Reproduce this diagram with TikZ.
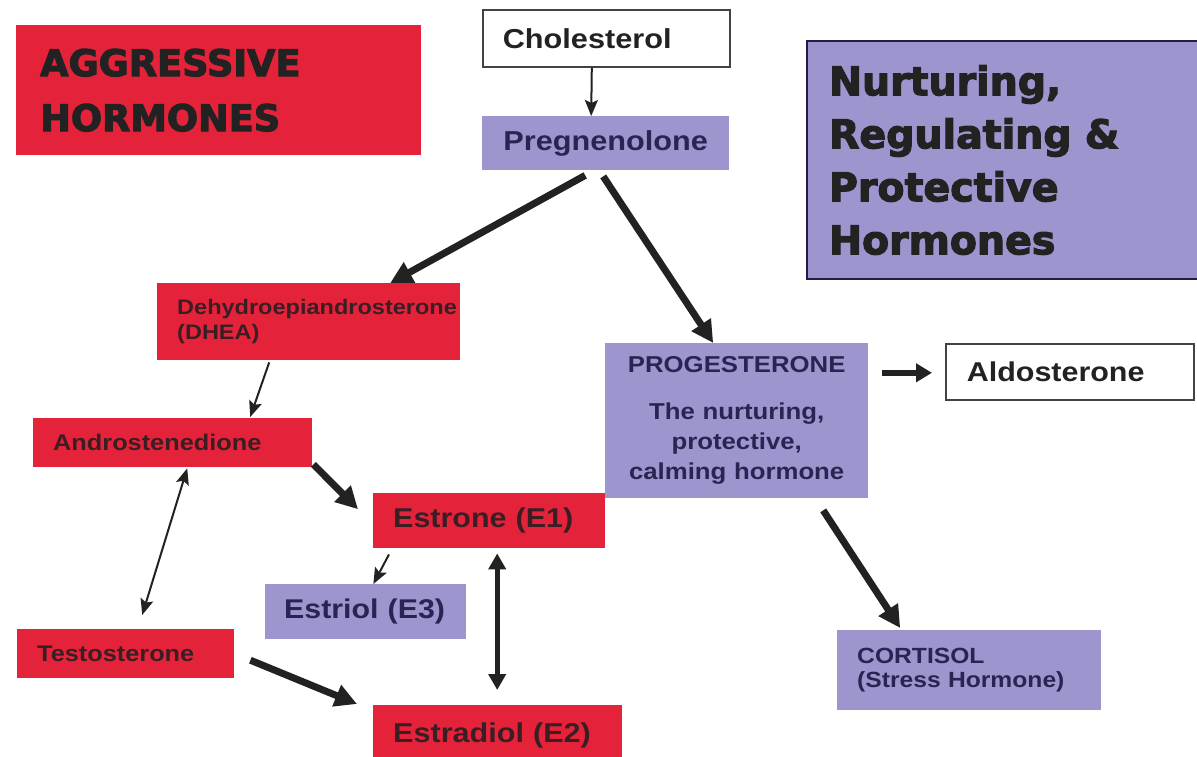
\documentclass[tikz,border=0pt]{standalone}
\usepackage{fontspec}
\usetikzlibrary{arrows.meta,calc}
\newfontfamily\boxfont{Liberation Sans}[FakeStretch=1.12]
\newfontfamily\headfont{DejaVu Sans}[FakeBold=3]
\definecolor{hred}{HTML}{E4233A}
\definecolor{hlav}{HTML}{9D95CE}
\definecolor{navy}{HTML}{2A2452}
\definecolor{darkred}{HTML}{3A1E24}
\definecolor{ink}{HTML}{222222}
\hyphenpenalty=10000
\exhyphenpenalty=10000
\begin{document}
\begin{tikzpicture}[x=1pt,y=-1pt,
  box/.style={anchor=north west, inner ysep=0pt, inner xsep=20pt, align=left, font=\boxfont\bfseries},
  redbox/.style={box, fill=hred, text=darkred},
  lavbox/.style={box, fill=hlav, text=navy},
  whitebox/.style={box, fill=white, draw=ink!85, line width=1.6pt, text=ink},
  fat/.style={draw=ink, line width=7pt, -{Triangle[length=22pt,width=22pt]}},
  mid/.style={draw=ink, line width=5pt, {Triangle[length=16pt,width=17pt]}-{Triangle[length=16pt,width=17pt]}},
  slim/.style={draw=ink, line width=2pt, -{Stealth[length=16pt,width=13pt,inset=3pt]}},
  slimboth/.style={draw=ink, line width=2pt, {Stealth[length=16pt,width=13pt,inset=3pt]}-{Stealth[length=16pt,width=13pt,inset=3pt]}},
]
\path[use as bounding box, fill=white] (0,0) rectangle (1197,757);

% headings
\node[redbox, text=ink, inner xsep=24pt, text width=357pt, minimum height=130pt,
      font=\headfont\bfseries\fontsize{36.7}{55}\selectfont] (aggr) at (16,25)
      {AGGRESSIVE\\HORMONES};
\node[lavbox, text=ink, draw=navy!80!black, line width=2pt, inner xsep=22pt, text width=360pt, minimum height=238pt,
      font=\headfont\bfseries\fontsize{39.5}{53}\selectfont] (nurt) at (806,40)
      {Nurturing,\\Regulating~\&\\Protective\\Hormones};

% pathway boxes
\node[whitebox, text width=207pt, minimum height=57pt, font=\boxfont\bfseries\fontsize{27.4}{30}\selectfont] (chol) at (482,9) {Cholesterol};
\node[lavbox, align=center, text width=207pt, minimum height=54pt, font=\boxfont\bfseries\fontsize{27.4}{30}\selectfont] (preg) at (482,116) {Pregnenolone};
\node[redbox, text width=263pt, minimum height=77pt, font=\boxfont\bfseries\fontsize{21}{25}\selectfont] (dhea) at (157,283) {Dehydroepiandrosterone\\(DHEA)};
\node[redbox, text width=239pt, minimum height=49pt, font=\boxfont\bfseries\fontsize{22.6}{25}\selectfont] (andro) at (33,418) {Androstenedione};
\node[redbox, text width=177pt, minimum height=49pt, font=\boxfont\bfseries\fontsize{22.6}{25}\selectfont] (testo) at (17,629) {Testosterone};
\node[redbox, text width=192pt, minimum height=55pt, font=\boxfont\bfseries\fontsize{27.2}{30}\selectfont] (estrone) at (373,493) {Estrone~(E1)};
\node[lavbox, text width=163pt, minimum height=55pt, inner xsep=19pt, font=\boxfont\bfseries\fontsize{27.1}{30}\selectfont] (estriol) at (265,584) {Estriol~(E3)};
\node[redbox, text width=209pt, minimum height=60pt, font=\boxfont\bfseries\fontsize{27.3}{30}\selectfont] (estradiol) at (373,705) {Estradiol~(E2)};
\node[lavbox, align=center, text width=223pt, minimum height=155pt, font=\boxfont\bfseries\fontsize{23}{30}\selectfont] (prog) at (605,343)
  {PROGESTERONE\\[17pt]The nurturing,\\protective,\\calming~hormone};
\node[whitebox, text width=206pt, minimum height=56pt, inner xsep=21pt, font=\boxfont\bfseries\fontsize{27.2}{30}\selectfont] (aldo) at (945,343) {Aldosterone};
\node[lavbox, text width=224pt, minimum height=80pt, font=\boxfont\bfseries\fontsize{22}{24}\selectfont] (cort) at (837,630) {CORTISOL\\(Stress~Hormone)};

% connectors
\draw[slim] ($(chol.south)+(-14.5,0)$) -- ($(preg.north)+(-14.5,0)$);
\draw[fat] ($(preg.south)+(-20.5,5)$) -- ($(dhea.north)+(81.5,0)$);
\draw[fat] ($(preg.south)+(-2.5,6)$) -- ($(prog.north)+(-23.5,0)$);
\draw[slim] ($(dhea.south)+(-39.5,2)$) -- ($(andro.north)+(77.5,-1)$);
\draw[slimboth] ($(andro.south)+(14.5,1)$) -- ($(testo.north)+(16.5,-14)$);
\draw[fat] ($(andro.south east)+(1,-3)$) -- ($(estrone.west)+(-15,-11.5)$);
\draw[slim] ($(estrone.south west)+(16,6)$) -- ($(estriol.north east)+(-93,0)$);
\draw[mid] ($(estrone.south)+(8,5)$) -- ($(estradiol.north)+(-0.5,-15)$);
\draw[fat] ($(testo.east)+(16,6.5)$) -- ($(estradiol.north west)+(-16,-1)$);
\draw[draw=ink, line width=6pt, -{Triangle[length=16pt,width=18pt]}] ($(aldo.west)+(-63,1)$) -- ($(aldo.west)+(-13,1)$);
\draw[fat] ($(prog.south)+(86.5,12)$) -- ($(cort.north)+(-69,-2)$);
\end{tikzpicture}
\end{document}
